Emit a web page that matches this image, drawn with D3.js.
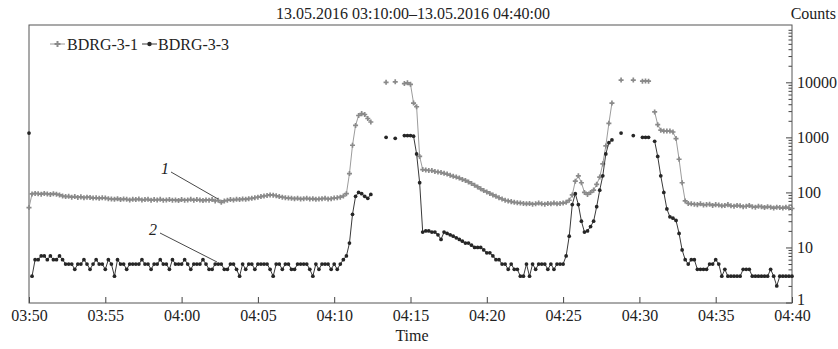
<!DOCTYPE html>
<html><head><meta charset="utf-8">
<script src="https://cdn.jsdelivr.net/npm/d3@7"></script>
<style>body{margin:0;background:#fff}svg{display:block}text{font-family:"Liberation Serif","DejaVu Serif",serif;fill:#222}</style>
</head><body><svg id="c" width="838" height="349"></svg>
<script>
// sample step: 0.2 min (12 s) starting at 03:50
const stepMin = 0.2;
const tickMinutes = [0,5,10,15,20,25,30,35,40,45,50];
const tickLabels = ["03:50","03:55","04:00","04:05","04:10","04:15","04:20","04:25","04:30","04:35","04:40"];
const yTicks = [1,10,100,1000,10000];
const seriesNames = ["BDRG-3-1","BDRG-3-3"];
const N = null;
const bdrg31 = [53,
94,96,95,93,96,94,92,95,93,90,
86,84,85,82,84,81,83,80,82,81,79,80,78,80,79,77,
76,75,77,74,76,75,73,75,74,76,73,74,75,72,74,73,75,72,73,74,72,73,71,74,72,73,75,72,74,73,71,73,72,74,70,72,66,70,
72,74,73,75,74,76,75,77,78,80,82,84,86,88,90,89,87,84,82,80,79,78,77,78,76,77,78,76,77,75,76,77,78,76,77,79,80,82,86,95,
220,720,1650,2500,2700,2600,2200,1900,
N,N,N,N,10000,N,N,10200,N,N,9500,9800,9200,4200,3600,450,
260,255,250,250,240,235,230,222,215,205,196,190,182,172,165,155,145,135,126,116,108,102,96,90,85,80,76,72,70,68,66,65,64,63,62,63,61,62,64,62,61,63,62,64,62,63,64,
66,72,90,160,200,150,100,92,100,110,140,190,330,700,1800,4200,
N,N,11000,N,N,N,11000,N,N,10500,10600,10500,N,
2900,1700,1350,1300,1300,1300,1250,950,400,150,70,
63,62,61,60,62,59,60,61,58,60,59,57,58,60,57,56,58,57,55,56,58,55,54,56,55,53,55,54,52,54,53,52,54,52,51];
const bdrg33 = [1200,3,
6,6,7,7,6,7,6,6,7,6,5,
5,5,4,5,5,6,5,4,5,6,5,5,4,6,5,3,6,5,
5,4,5,5,5,5,6,5,5,4,5,5,6,5,5,4,6,5,5,5,
6,5,4,5,5,5,6,5,4,4,5,5,5,4,4,5,5,4,3,5,
4,5,5,4,5,5,5,5,4,3,5,5,4,5,5,4,4,5,5,5,
5,4,3,5,4,5,5,5,4,5,4,5,
6,7,12,40,85,100,95,85,78,92,
N,N,N,N,1000,N,N,960,N,N,1080,1080,1080,1050,500,150,
19,20,20,19,19,17,14,19,18,17,16,15,14,13,12,12,11,10,10,10,9,8,8,7,6,6,5,5,4,5,4,4,3,3,5,3,5,4,5,5,5,4,5,4,5,5,5,
7,16,60,95,60,30,19,20,24,30,55,110,200,500,800,900,
N,N,1200,N,N,N,1080,N,N,1000,1000,1000,N,
850,450,200,100,50,36,34,31,18,9,6,
5,6,6,4,4,4,4,5,5,6,5,3,4,3,3,3,3,3,4,4,4,3,3,3,3,3,3,4,3,2,3,3,3,3,3];

const svg = d3.select("#c");
const L=29,R=792,T=25,B=303;
const x = d3.scaleLinear().domain([0,50]).range([L,R]);
const y = d3.scaleLog().domain([1,1.1e5]).range([302.5,T]);

const series = [
 {name:seriesNames[0], vals:bdrg31, line:"#9c9c9c", mark:"#8a8a8a", sym:d3.symbolCross, size:14, lineFrom:0},
 {name:seriesNames[1], vals:bdrg33, line:"#3a3a3a", mark:"#262626", sym:d3.symbolCircle, size:11, lineFrom:1}
];

// title
svg.append("text").attr("x",413).attr("y",19).attr("text-anchor","middle").attr("font-size",16)
  .text("13.05.2016 03:10:00–13.05.2016 04:40:00");
svg.append("text").attr("x",836).attr("y",19).attr("text-anchor","end").attr("font-size",16).text("Counts");

// bottom axis
const xAxis = d3.axisBottom(x).tickValues(tickMinutes).tickFormat((d,i)=>tickLabels[i]).tickSize(-6).tickPadding(7);
const gx = svg.append("g").attr("transform",`translate(0,${B})`).call(xAxis);
gx.select(".domain").remove();
gx.selectAll("line").attr("stroke","#444");
gx.selectAll("text").attr("font-size",16).attr("font-family","Liberation Serif").attr("fill","#222");
svg.append("text").attr("x",412).attr("y",341).attr("text-anchor","middle").attr("font-size",16).text("Time");

// right axis
const minor = [];
for (let e=0;e<5;e++) for (let k=2;k<=9;k++) minor.push(k*Math.pow(10,e));
const gyMin = svg.append("g").attr("transform",`translate(${R},0)`)
  .call(d3.axisRight(y).tickValues(minor.filter(v=>v<1.1e5)).tickSize(-3.5).tickFormat(""));
gyMin.select(".domain").remove();
gyMin.selectAll("line").attr("stroke","#444");
const gy = svg.append("g").attr("transform",`translate(${R},0)`)
  .call(d3.axisRight(y).tickValues(yTicks).tickFormat(d3.format("d")).tickSize(-6).tickPadding(5));
gy.select(".domain").remove();
gy.selectAll("line").attr("stroke","#444");
gy.selectAll("text").attr("font-size",16).attr("font-family","Liberation Serif").attr("fill","#222")
  .attr("dy",d=>d===1?"0.1em":"0.32em");

// frame
svg.append("rect").attr("x",L).attr("y",T).attr("width",R-L).attr("height",B-T)
  .attr("fill","none").attr("stroke","#555").attr("stroke-width",1);

// data
series.forEach(s=>{
  const pts = s.vals.map((v,i)=>({t:i*stepMin,v}));
  const line = d3.line().defined(d=>d.v!=null).x(d=>x(d.t)).y(d=>y(d.v));
  svg.append("path").attr("d",line(pts.slice(s.lineFrom))).attr("fill","none").attr("stroke",s.line).attr("stroke-width",1);
  svg.append("g").selectAll("path").data(pts.filter(d=>d.v!=null)).join("path")
    .attr("transform",d=>`translate(${x(d.t)},${y(d.v)})`)
    .attr("d",d3.symbol(s.sym,s.size)).attr("fill",s.mark);
});

// legend
const leg = [{x0:50,tx:67},{x0:142,tx:158}];
series.forEach((s,i)=>{
  const g = svg.append("g");
  g.append("line").attr("x1",leg[i].x0).attr("x2",leg[i].x0+15).attr("y1",44).attr("y2",44).attr("stroke",s.line);
  g.append("path").attr("transform",`translate(${leg[i].x0+7.5},44)`).attr("d",d3.symbol(s.sym,s.size*1.4)).attr("fill",s.mark);
  g.append("text").attr("x",leg[i].tx).attr("y",49.5).attr("font-size",16).text(s.name);
});

// annotations
svg.append("text").attr("x",165).attr("y",174).attr("text-anchor","middle").attr("font-size",16).attr("font-style","italic").text("1");
svg.append("line").attr("x1",171).attr("y1",172).attr("x2",218).attr("y2",199).attr("stroke","#333").attr("stroke-width",0.9);
svg.append("text").attr("x",153).attr("y",235).attr("text-anchor","middle").attr("font-size",16).attr("font-style","italic").text("2");
svg.append("line").attr("x1",160).attr("y1",233).attr("x2",217).attr("y2",262).attr("stroke","#333").attr("stroke-width",0.9);
</script></body></html>
